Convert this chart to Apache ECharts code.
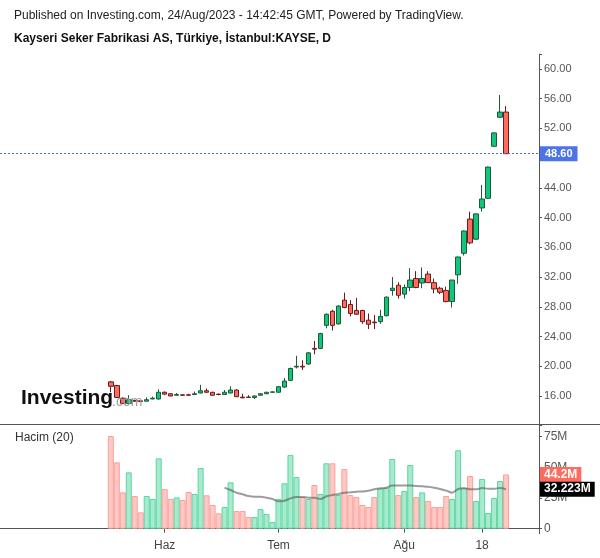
<!DOCTYPE html>
<html>
<head>
<meta charset="utf-8">
<script src="https://cdn.jsdelivr.net/npm/echarts@6/dist/echarts.min.js"></script>
<style>html,body{margin:0;padding:0;background:#fff}#c{width:600px;height:558px}</style>
</head>
<body>
<div id="c"></div>
<script>
const dates = [
 '2023-05-18','2023-05-22','2023-05-23','2023-05-24','2023-05-25','2023-05-26','2023-05-29','2023-05-30','2023-05-31',
 '2023-06-01','2023-06-02','2023-06-05','2023-06-06','2023-06-07','2023-06-08','2023-06-09','2023-06-12','2023-06-13','2023-06-14','2023-06-15','2023-06-16','2023-06-19','2023-06-20','2023-06-21','2023-06-22','2023-06-23','2023-06-26','2023-06-27',
 '2023-07-03','2023-07-04','2023-07-05','2023-07-06','2023-07-07','2023-07-10','2023-07-11','2023-07-12','2023-07-13','2023-07-14','2023-07-17','2023-07-18','2023-07-19','2023-07-20','2023-07-21','2023-07-24','2023-07-25','2023-07-26','2023-07-27','2023-07-28','2023-07-31',
 '2023-08-01','2023-08-02','2023-08-03','2023-08-04','2023-08-07','2023-08-08','2023-08-09','2023-08-10','2023-08-11','2023-08-14','2023-08-15','2023-08-16','2023-08-17','2023-08-18','2023-08-21','2023-08-22','2023-08-23','2023-08-24'
];
const open  = [17.9,17.4,15.7,15.0,15.4,15.35,15.3,15.6,15.6,16.5,16.3,16.1,16.15,16.15,16.2,16.4,16.7,16.5,16.25,16.2,16.4,16.8,15.85,15.85,15.8,16.1,16.3,16.5,16.5,17.2,18.1,19.9,20.0,20.3,22.4,22.4,25.5,27.4,25.7,28.9,28.3,27.5,27.5,26.2,25.95,26.0,26.8,30.2,30.9,29.7,30.6,31.8,31.2,32.4,31.25,30.5,30.2,28.7,32.3,35.2,39.8,37.1,41.3,42.6,49.6,53.5,54.2];
const close = [17.3,15.8,15.0,15.5,15.3,15.25,15.5,15.7,16.5,16.25,16.0,16.2,16.1,16.1,16.3,16.7,16.5,16.1,16.2,16.5,16.8,15.9,15.75,15.8,16.0,16.3,16.5,16.55,17.25,18.0,19.7,20.0,19.9,21.8,22.3,24.4,27.0,25.5,28.1,27.9,27.1,27.0,26.0,25.65,25.85,26.7,29.3,30.5,29.55,30.6,31.6,30.6,31.8,31.25,30.4,29.95,28.7,31.6,34.7,38.2,36.6,40.5,42.5,46.8,51.4,54.2,48.6];
const low   = [16.5,15.7,14.9,14.9,15.2,15.2,15.3,15.55,15.5,16.1,15.95,16.05,16.0,16.05,16.15,16.35,16.45,16.05,16.1,16.15,16.35,15.85,15.7,15.75,15.6,16.05,16.25,16.45,16.45,17.1,18.0,19.7,19.5,20.2,21.6,22.3,25.1,24.8,25.6,27.8,26.7,26.9,25.7,25.0,25.0,25.7,26.7,29.5,29.1,29.1,30.1,30.5,30.5,31.2,29.8,29.7,28.6,27.9,31.1,34.9,36.4,37.0,40.8,42.5,49.55,53.45,48.6];
const high  = [18.0,17.5,15.8,16.1,15.5,15.4,15.8,15.9,16.9,16.6,16.35,16.4,16.2,16.3,16.6,17.5,17.0,16.55,16.3,16.8,17.3,16.9,16.3,16.1,16.05,16.35,16.55,16.6,17.3,18.4,19.8,21.4,20.8,21.9,23.4,24.5,27.1,27.6,28.2,29.9,28.9,29.2,27.6,27.1,26.9,27.6,29.4,32.0,31.3,31.0,33.2,32.8,33.3,32.8,31.8,30.7,30.7,31.6,34.75,38.25,40.8,40.55,44.4,46.85,51.45,56.5,55.0];
// volume in millions
const volume = [75.5,54.1,29.6,45.9,26.6,13.3,26.6,24.2,57.3,32.3,24.2,25.5,23.4,29.9,28.3,49.4,27.2,19.3,12.5,17.7,37.8,14.4,14.4,9.5,9.5,16.0,12.0,5.4,24.2,37.0,60.0,42.1,25.8,24.2,35.6,28.3,53.3,53.3,27.4,48.6,27.4,25.8,19.3,17.7,25.8,32.9,33.4,56.8,27.4,30.7,51.9,25.8,29.6,22.6,17.7,17.7,26.6,24.2,63.9,33.4,42.9,22.6,40.5,12.8,25.0,38.9,44.2];
// 20-period volume average as drawn (millions)
const volumeMA = [null,null,null,null,null,null,null,null,null,null,null,null,null,null,null,null,null,null,null,
 33.4,31.5,29.3,28.0,26.6,26.1,26.1,25.3,24.2,22.3,22.8,24.7,25.8,25.8,25.3,25.3,24.2,26.4,27.4,28.3,29.3,29.6,30.2,30.4,31.0,32.1,32.9,33.4,35.3,35.3,35.3,35.3,34.8,34.5,34.2,33.4,32.3,31.0,29.3,32.3,32.9,32.1,32.1,33.1,32.6,32.6,33.1,32.2];
const tickLabels = {'2023-06-01':'Haz','2023-07-03':'Tem','2023-08-01':'Ağu','2023-08-18':'18'};
const lastPrice = 48.60;
const lastVolume = 44.2;
const lastVolumeMA = 32.223;

const PAD_BEFORE = 18, PAD_AFTER = 5;
const pre = Array.from({length: PAD_BEFORE}, (_, i) => 'pre' + i);
const post = Array.from({length: PAD_AFTER}, (_, i) => 'post' + i);
const categories = pre.concat(dates, post);
const padB = n => Array.from({length: n}, () => '-');

const candleData = padB(PAD_BEFORE).concat(dates.map((d, i) => [open[i], close[i], low[i], high[i]])).concat(padB(PAD_AFTER));
const UP_FILL = '#12c57c', UP_LINE = '#1d5a37', DN_FILL = '#ff6b5d', DN_LINE = '#6a1c1c';
const volData = padB(PAD_BEFORE).concat(volume.map((v, i) => {
  const up = close[i] >= open[i];
  return {value: v * 1e6, itemStyle: {color: up ? '#a6ebcd' : '#ffc8c4', borderColor: up ? '#5dd6a1' : '#f8a19b', borderWidth: 1}};
})).concat(padB(PAD_AFTER));
const maData = padB(PAD_BEFORE).concat(volumeMA.map(v => v == null ? '-' : v * 1e6)).concat(padB(PAD_AFTER));

const FONT = 'Liberation Sans, Arial, sans-serif';
const isTick = (idx, val) => tickLabels[val] !== undefined;

const chart = echarts.init(document.getElementById('c'), null, {renderer: 'canvas'});
chart.setOption({
  animation: false,
  backgroundColor: '#fff',
  textStyle: {fontFamily: FONT},
  grid: [
    {left: 0, right: 61, top: 54.1, height: 371.6},
    {left: 0, right: 61, top: 425, height: 103.7}
  ],
  xAxis: [
    {type: 'category', gridIndex: 0, data: categories, boundaryGap: true,
     axisLine: {show: false}, axisTick: {show: false}, axisLabel: {show: false}, splitLine: {show: false}},
    {type: 'category', gridIndex: 1, data: categories, boundaryGap: true, offset: 5,
     axisLine: {show: true, lineStyle: {color: '#555', width: 1}},
     axisTick: {show: true, interval: isTick, alignWithLabel: true, length: 4, lineStyle: {color: '#555'}},
     axisLabel: {show: true, interval: isTick, formatter: v => tickLabels[v] || '', color: '#444', fontSize: 12, fontFamily: FONT, margin: 6},
     splitLine: {show: false}}
  ],
  yAxis: [
    {type: 'value', gridIndex: 0, position: 'right', min: 12, max: 62, interval: 4, scale: false,
     axisLine: {show: true, lineStyle: {color: '#555'}},
     axisTick: {show: true, length: 3, lineStyle: {color: '#555'}},
     axisLabel: {color: '#555', fontSize: 11, fontFamily: FONT, margin: 5,
       formatter: v => (v >= 16 && v <= 60) ? v.toFixed(2) : ''},
     splitLine: {show: false}},
    {type: 'value', gridIndex: 1, position: 'right', min: 0, max: 84.5e6, interval: 25e6,
     axisLine: {show: true, lineStyle: {color: '#555'}},
     axisTick: {show: true, length: 3, lineStyle: {color: '#555'}},
     axisLabel: {color: '#555', fontSize: 12, fontFamily: FONT, margin: 5,
       formatter: v => v === 0 ? '0' : (v <= 75e6 ? (v / 1e6) + 'M' : '')},
     splitLine: {show: false}}
  ],
  series: [
    {type: 'candlestick', xAxisIndex: 0, yAxisIndex: 0, data: candleData, barWidth: 5,
     itemStyle: {color: UP_FILL, color0: DN_FILL, borderColor: UP_LINE, borderColor0: DN_LINE, borderWidth: 1},
     markLine: {silent: true, symbol: 'none', animation: false,
       lineStyle: {color: '#4a6ee0', type: [2, 2], width: 1},
       label: {show: true, position: 'end', distance: 1, formatter: lastPrice.toFixed(2), color: '#fff',
         backgroundColor: '#4c74e6', padding: [2, 5, 2, 5], fontSize: 11, fontWeight: 'bold', fontFamily: FONT},
       data: [{yAxis: lastPrice}]}},
    {type: 'bar', xAxisIndex: 1, yAxisIndex: 1, data: volData, barWidth: 6, barCategoryGap: '0%'},
    {type: 'line', xAxisIndex: 1, yAxisIndex: 1, data: maData, showSymbol: false, symbol: 'none', smooth: 0.3,
     lineStyle: {color: 'rgba(90,90,90,0.6)', width: 2}, z: 3},
    {type: 'line', xAxisIndex: 1, yAxisIndex: 1, data: [], z: 6, silent: true,
     markLine: {silent: true, symbol: 'none', animation: false,
       lineStyle: {color: 'rgba(0,0,0,0)', width: 0},
       data: [
         {yAxis: lastVolume * 1e6, label: {show: true, position: 'end', distance: 1, formatter: lastVolume + 'M', color: '#fff',
           backgroundColor: '#ff6b5d', padding: [2, 4, 1, 4], fontSize: 12, fontWeight: 'bold', fontFamily: FONT}},
         {yAxis: lastVolumeMA * 1e6, label: {show: true, position: 'end', distance: 1, formatter: lastVolumeMA + 'M', color: '#fff',
           backgroundColor: '#000', padding: [2, 4, 1, 4], fontSize: 12, fontWeight: 'bold', fontFamily: FONT}}
       ]}}
  ],
  graphic: [
    {type: 'text', left: 14, top: 10, style: {text: 'Published on Investing.com, 24/Aug/2023 - 14:42:45 GMT, Powered by TradingView.', font: '12px ' + FONT, fill: '#222'}},
    {type: 'text', left: 14, top: 33, style: {text: 'Kayseri Seker Fabrikasi AS, Türkiye, İstanbul:KAYSE, D', font: 'bold 12px ' + FONT, fill: '#111'}},
    {type: 'line', shape: {x1: 0, y1: 424.5, x2: 600, y2: 424.5}, style: {stroke: '#555', lineWidth: 1}, z: 10},
    {type: 'line', shape: {x1: 539.5, y1: 528, x2: 539.5, y2: 534}, style: {stroke: '#555', lineWidth: 1}, z: 10},
    {type: 'text', left: 15, top: 432, style: {text: 'Hacim (20)', font: '12px ' + FONT, fill: '#333'}},
    {type: 'text', left: 21, top: 388, z: 20, style: {text: 'Investing', font: 'bold 21px ' + FONT, fill: '#111'}},
    {type: 'text', left: 112, top: 395, z: 20, style: {text: '.com', font: '14px ' + FONT, fill: '#a0a0a0'}}
  ]
});
</script>
</body>
</html>
